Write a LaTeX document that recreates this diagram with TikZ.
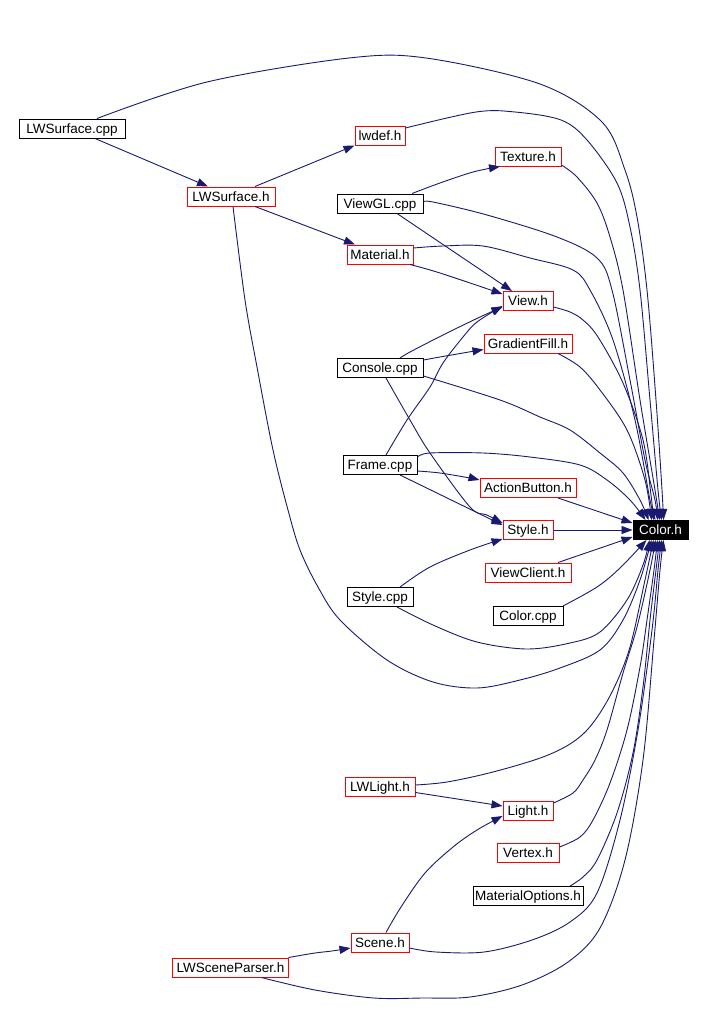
\documentclass[tikz,border=0pt]{standalone}
\usepackage{fontspec}
\setmainfont{Liberation Sans}
\usetikzlibrary{arrows.meta}
\definecolor{edgeblue}{RGB}{25,25,112}
\tikzset{
  x=1pt, y=-1pt,
  fbox/.style={draw=black, line width=1pt, rectangle, inner sep=0pt, minimum height=19pt,
    text height=9.7pt, text depth=0pt,
    font=\fontsize{13.5}{15}\selectfont, text=black},
  rbox/.style={fbox, draw=red},
  cbox/.style={fbox, fill=black, text=white},
  edge/.style={draw=edgeblue, line width=0.9pt, -{Triangle[length=11pt,width=8pt]}},
  sm/.style={smooth, tension=0.55}
}
\begin{document}
\begin{tikzpicture}
\useasboundingbox (0,0) rectangle (702,1034);
% nodes
\node[fbox, minimum width=106pt] (lwsc) at (72,128.5) {LWSurface.cpp};
\node[rbox, minimum width=50pt] (lwdef) at (380,135.5) {lwdef.h};
\node[rbox, minimum width=88pt] (lwsh) at (231,196.5) {LWSurface.h};
\node[rbox, minimum width=66pt] (texture) at (528,156.5) {Texture.h};
\node[fbox, minimum width=86pt] (viewgl) at (380,203.5) {ViewGL.cpp};
\node[rbox, minimum width=66pt] (material) at (380,254.5) {Material.h};
\node[rbox, minimum width=50pt] (view) at (528,301) {View.h};
\node[rbox, minimum width=88pt] (gradient) at (528,343.5) {GradientFill.h};
\node[fbox, minimum width=86pt] (console) at (380,368) {Console.cpp};
\node[fbox, minimum width=74pt] (frame) at (380,465) {Frame.cpp};
\node[rbox, minimum width=96pt] (action) at (528,488) {ActionButton.h};
\node[rbox, minimum width=50pt] (style) at (528,530) {Style.h};
\node[cbox, minimum width=55pt] (colorh) at (660.5,530) {Color.h};
\node[rbox, minimum width=86pt] (viewclient) at (528,572.5) {ViewClient.h};
\node[fbox, minimum width=66pt] (stylecpp) at (380,597) {Style.cpp};
\node[fbox, minimum width=70pt] (colorcpp) at (528,616) {Color.cpp};
\node[rbox, minimum width=70pt] (lwlight) at (380,786.5) {LWLight.h};
\node[rbox, minimum width=50pt] (light) at (528,811) {Light.h};
\node[rbox, minimum width=62pt] (vertex) at (528,852.5) {Vertex.h};
\node[fbox, minimum width=110pt] (matopts) at (528,896) {MaterialOptions.h};
\node[rbox, minimum width=58pt] (scene) at (380,942.5) {Scene.h};
\node[rbox, minimum width=116pt] (lwsp) at (230.5,967.5) {LWSceneParser.h};

% short edges
\draw[edge] ([xshift=23pt]lwsc.south) -- ([xshift=-23pt]lwsh.north);
\draw[edge] ([xshift=24pt]lwsh.north) -- (lwdef.south west);
\draw[edge] ([xshift=24pt]lwsh.south) -- ([xshift=-25pt]material.north);
\draw[edge] plot[sm] coordinates {([xshift=32pt]viewgl.north) (440,183) (473,172) ([xshift=-28pt]texture.south)};
\draw[edge] ([xshift=17pt]viewgl.south) -- ([xshift=-16pt]view.north);
\draw[edge] plot[sm] coordinates {([xshift=30pt]material.south) (440,273) ([yshift=7pt]view.west)};
\draw[edge] plot[sm] coordinates {([xshift=20pt]console.north) (410,352) (443,335) (480,317) ([yshift=-6pt]view.west)};
\draw[edge] plot[sm] coordinates {([xshift=6pt]frame.north) (407,420) (430,387) (443,363) (463,337) (477,322) ([yshift=-5pt]view.west)};
\draw[edge] plot[sm] coordinates {([yshift=8pt]console.east) (440,357) (463,353) ([yshift=-6pt]gradient.west)};
\draw[edge] plot[sm] coordinates {([xshift=6pt]console.south) (410,420) (430,453) (470,507) (487,515) ([yshift=7pt]style.west)};
\draw[edge] plot[sm] coordinates {([yshift=-6pt]frame.east) (440,473) (470,478) ([yshift=8pt]action.west)};
\draw[edge] ([xshift=20pt]frame.south) -- ([yshift=5pt]style.west);
\draw[edge] plot[sm] coordinates {([xshift=20pt]stylecpp.north) (430,567) (470,550) ([yshift=-9pt]style.west)};
\draw[edge] ([yshift=-6pt]lwlight.east) -- ([yshift=5pt]light.west);
\draw[edge] plot[sm] coordinates {([xshift=6pt]scene.north) (401,907) (425,873) (453,847) (477,830) ([yshift=-5pt]light.west)};
\draw[edge] plot[sm] coordinates {([xshift=58pt]lwsp.north) (315,953) (332,951) ([yshift=-5.5pt]scene.west)};

% edges into Color.h from the top
\draw[edge] plot[sm] coordinates {([xshift=25pt]lwsc.north) (207,82) (349,58) (426,58) (540,84) (602,122) (625,170) (637,217) (647,290) (656,400) (662,490) ([xshift=3pt]colorh.north)};
\draw[edge] plot[sm] coordinates {([yshift=7.5pt]lwdef.east) (476,112) (515,112) (561,120) (587,140) (617,183) (630,227) (640,290) (650,400) (658,490) ([xshift=1pt]colorh.north)};
\draw[edge] plot[sm] coordinates {([yshift=-8.5pt]texture.east) (577,177) (597,203) (610,237) (623,290) (640,400) (655,490) ([xshift=-1pt]colorh.north)};
\draw[edge] plot[sm] coordinates {([yshift=1.5pt]viewgl.east) (433,202) (487,215) (557,237) (597,258) (612,290) (630,380) (645,460) (655,500) ([xshift=-3pt]colorh.north)};
\draw[edge] plot[sm] coordinates {([yshift=6.5pt]material.east) (443,246) (483,246) (530,258) (573,270) (590,290) (613,340) (635,420) (650,500) ([xshift=-5pt]colorh.north)};
\draw[edge] plot[sm] coordinates {([yshift=-6pt]view.east) (570,312) (583,320) (598,337) (623,383) (643,440) (651,495) ([xshift=-7pt]colorh.north)};
\draw[edge] plot[sm] coordinates {([xshift=30pt]gradient.south) (580,367) (600,390) (627,430) (645,480) ([xshift=-9pt]colorh.north)};
\draw[edge] plot[sm] coordinates {([yshift=-8pt]console.east) (500,400) (540,417) (570,430) (600,453) (623,473) (640,500) ([xshift=-12pt]colorh.north)};
\draw[edge] plot[sm] coordinates {([yshift=8pt]frame.east) (430,453) (483,453) (530,457) (580,465) (607,480) (630,500) ([xshift=-15pt]colorh.north)};
% from the left
\draw[edge] ([xshift=30pt]action.south) -- ([yshift=7pt]colorh.west);
\draw[edge] (style.east) -- (colorh.west);
\draw[edge] ([xshift=30pt]viewclient.north) -- ([yshift=-7pt]colorh.west);
% from below
\draw[edge] plot[sm] coordinates {([xshift=35pt]colorcpp.north) (597,587) (620,568) ([xshift=-14pt]colorh.south)};
\draw[edge] plot[sm] coordinates {([xshift=17pt]stylecpp.south) (433,625) (477,642) (527,649) (570,643) (600,632) (627,600) (643,565) ([xshift=-11pt]colorh.south)};
\draw[edge] plot[sm] coordinates {([xshift=2pt]lwsh.south) (245,300) (257,367) (273,450) (288,510) (300,550) (318,587) (340,620) (387,660) (433,682) (477,688) (520,680) (560,668) (600,650) (623,620) (640,580) ([xshift=-9pt]colorh.south)};
\draw[edge] plot[sm] coordinates {([yshift=1.5pt]lwlight.east) (447,782) (493,772) (543,757) (573,742) (593,723) (613,690) (630,647) (645,580) ([xshift=-7pt]colorh.south)};
\draw[edge] plot[sm] coordinates {([yshift=8pt]light.east) (573,793) (583,780) (595,760) (607,730) (623,673) (637,627) (650,570) ([xshift=-5pt]colorh.south)};
\draw[edge] plot[sm] coordinates {([yshift=5.5pt]vertex.east) (580,837) (593,820) (610,783) (627,730) (640,667) (647,620) (654,570) ([xshift=-3pt]colorh.south)};
\draw[edge] plot[sm] coordinates {([xshift=42pt]matopts.north) (583,877) (597,860) (617,813) (633,753) (643,687) (650,620) (656,570) ([xshift=-1pt]colorh.south)};
\draw[edge] plot[sm] coordinates {([yshift=-5.5pt]scene.east) (436,952) (484,952) (532,940) (570,922) (597,893) (620,820) (638,730) (652,630) (658,570) ([xshift=1pt]colorh.south)};
\draw[edge] plot[sm] coordinates {([xshift=31pt]lwsp.south) (315,990) (374,998) (422,998) (470,997) (522,985) (568,962) (600,928) (625,860) (643,760) (654,640) (660,570) ([xshift=3pt]colorh.south)};
\end{tikzpicture}
\end{document}
